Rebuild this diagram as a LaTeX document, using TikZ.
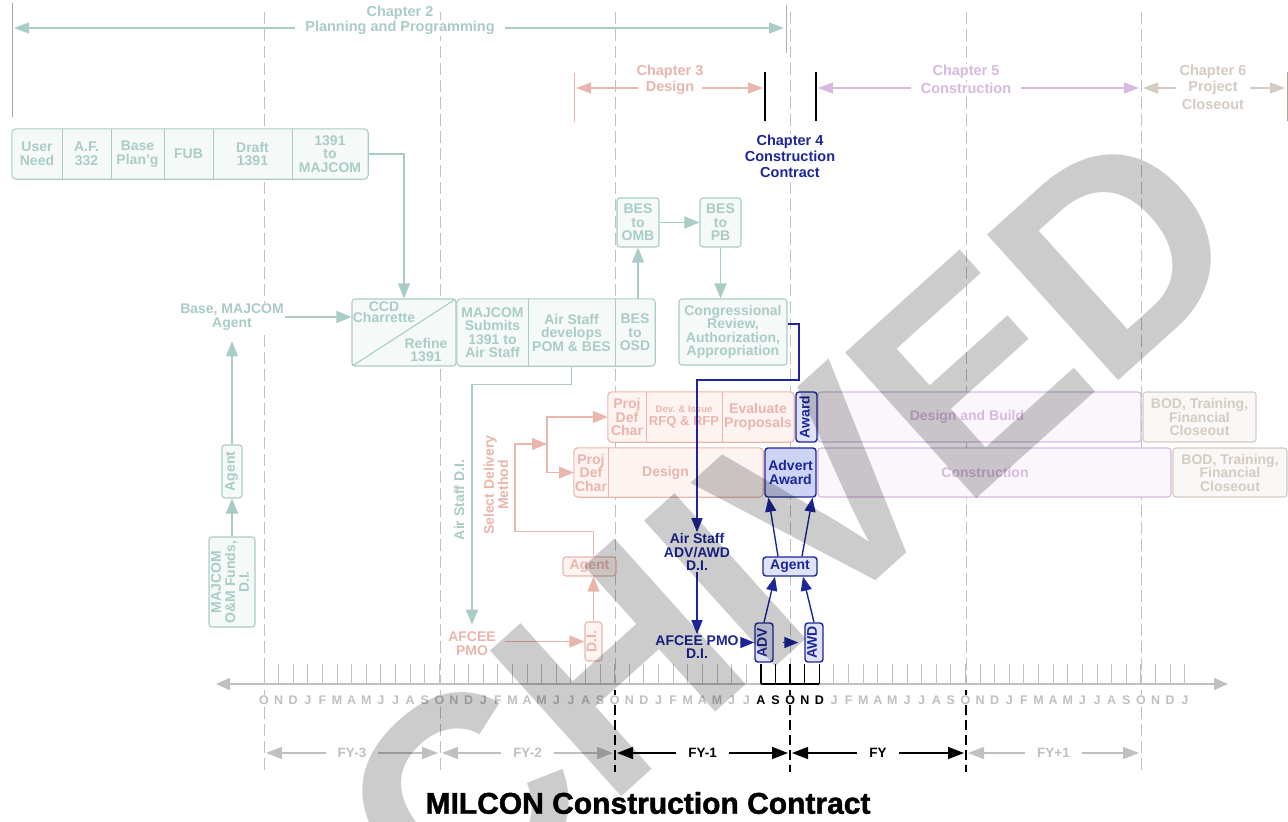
\documentclass[tikz,border=0pt]{standalone}
\usepackage{fontspec}
\setmainfont{Liberation Sans}
\newfontfamily\titlefont{Liberation Sans}[BoldFeatures={FakeBold=1.5}]
\usepackage{graphicx}
\usetikzlibrary{positioning,arrows.meta,calc,backgrounds}

\definecolor{tealc}{RGB}{170,204,198}
\definecolor{tealfill}{RGB}{245,250,249}
\definecolor{pinkc}{RGB}{234,182,172}
\definecolor{pinkfill}{RGB}{253,244,242}
\definecolor{purpc}{RGB}{214,186,224}
\definecolor{purpfill}{RGB}{251,246,252}
\definecolor{beigec}{RGB}{212,203,194}
\definecolor{beigefill}{RGB}{250,248,246}
\definecolor{bluec}{RGB}{28,38,152}
\definecolor{bluefill}{RGB}{205,211,243}
\definecolor{bluelite}{RGB}{222,227,247}
\definecolor{greyc}{RGB}{192,192,192}

% vertical (rotated) cell text
\newcommand{\vtxt}[1]{\rotatebox{90}{\begin{tabular}{@{}c@{}}#1\end{tabular}}}

\begin{document}
\begin{tikzpicture}[
    x=1pt, y=-1pt,
    every node/.style={font=\bfseries\fontsize{14}{13.5}\selectfont, align=center, inner sep=1pt},
    chap/.style={font=\bfseries\fontsize{14.5}{16}\selectfont, fill=white, inner sep=1pt},
    tcell/.style={text=tealc, inner sep=0pt},
    pcell/.style={text=pinkc, inner sep=0pt},
    tbox/.style={draw=tealc, fill=tealfill, text=tealc, rounded corners=3pt, line width=1.1pt, inner sep=0pt},
    pbox/.style={draw=pinkc, fill=pinkfill, text=pinkc, rounded corners=3pt, line width=1.1pt, inner sep=0pt},
    ubox/.style={draw=purpc, fill=purpfill, text=purpc, rounded corners=3pt, line width=1.1pt, inner sep=0pt},
    gbox/.style={draw=beigec, fill=beigefill, text=beigec, rounded corners=3pt, line width=1.1pt, inner sep=0pt},
    bbox/.style={draw=bluec, fill=bluelite, text=bluec, rounded corners=3pt, line width=1.4pt, inner sep=0pt},
    tline/.style={draw=tealc, line width=1.1pt},
    pline/.style={draw=pinkc, line width=1.1pt},
    ttext/.style={text=tealc, fill=white},
    ptext/.style={text=pinkc, fill=white},
    btext/.style={text=bluec, fill=white},
    tarrow/.style={tealc, line width=1.4pt, -{Triangle[length=15pt,width=12pt]}},
    parrow/.style={pinkc, line width=1.4pt, -{Triangle[length=15pt,width=12pt]}},
    barrow/.style={bluec, line width=1.4pt, -{Triangle[length=14pt,width=11pt]}},
    chaparrow/.style={#1, line width=1.4pt, {Triangle[length=15pt,width=11pt]}-{Triangle[length=15pt,width=11pt]}},
    fyarrow/.style={line width=1.4pt, {Triangle[length=16pt,width=12pt]}-{Triangle[length=16pt,width=12pt]}},
    yearline/.style={greyc, line width=1pt, dash pattern=on 12pt off 5pt},
    fyline/.style={black, line width=1.4pt, dash pattern=on 10pt off 5pt},
    mon/.style={font=\bfseries\fontsize{12.5}{12.5}\selectfont, text=greyc, fill=white, inner sep=0.5pt},
    fyl/.style={font=\bfseries\fontsize{13.5}{13.5}\selectfont, fill=white, inner xsep=12pt},
    wmark/.style={font=\bfseries\fontsize{285}{285}\selectfont, text=black, text opacity=0.2, inner sep=0pt}
]
\useasboundingbox (0,0) rectangle (1288,822);

% fiscal year boundaries
\begin{scope}[on background layer]
\foreach \x in {264,440,615,790,966,1141}
    \draw[yearline] (\x,12) -- (\x,684);
\foreach \x in {264,440,1141}
    \draw[yearline] (\x,690) -- (\x,772);
\foreach \x in {615,790,966}
    \draw[fyline] (\x,690) -- (\x,772);
\end{scope}

% === Chapter bands ===
\draw[black!35, line width=1pt] (12,3) -- (12,117);
\draw[black!30, line width=1pt] (786,5) -- (786,53);
\draw[chaparrow=tealc] (14,28) -- (784,28);
\node[chap, text=tealc] (c2a) at (400,13) {Chapter 2};
\node[chap, text=tealc, inner xsep=10pt] (c2b) at (400,28) {Planning and Programming};

\draw[pinkc, line width=1pt] (574,73) -- (574,122);
\draw[chaparrow=pinkc] (576,88) -- (763,88);
\node[chap, text=pinkc] (c3a) at (670,72) {Chapter 3};
\node[chap, text=pinkc, inner xsep=8pt] (c3b) at (670,88) {Design};

\draw[black, line width=1.5pt] (765,72) -- (765,121);
\draw[black, line width=1.5pt] (816,72) -- (816,121);
\node[chap, text=bluec] (ch4) at (790,156) {Chapter 4\\Construction\\Contract};

\draw[chaparrow=purpc] (818,88) -- (1139,88);
\node[chap, text=purpc] (c5a) at (966,72) {Chapter 5};
\node[chap, text=purpc, inner xsep=10pt] (c5b) at (966,88) {Construction};

\draw[beigec!80!black, line width=1pt] (1287,72) -- (1287,121);
\draw[chaparrow=beigec] (1143,88) -- (1285,88);
\node[chap, text=beigec] (c6a) at (1213,72) {Chapter 6};
\node[chap, text=beigec, inner xsep=12pt] (c6b) at (1213,88) {Project};
\node[chap, text=beigec] (c6c) at (1213,104) {Closeout};

% === Planning and programming (teal) ===
\node[tcell, minimum width=50, minimum height=50] (usr) at (37,154) {User\\Need};
\node[tcell, minimum width=49, minimum height=50] (af) at (86.5,154) {A.F.\\332};
\node[tcell, minimum width=53, minimum height=50] (base) at (137.5,154) {Base\\Plan'g};
\node[tcell, minimum width=49, minimum height=50] (fub) at (188.5,154) {FUB};
\node[tcell, minimum width=79, minimum height=50] (draft) at (252.5,154) {Draft\\1391};
\node[tcell, minimum width=76, minimum height=50] (tomaj) at (330,154) {1391\\to\\MAJCOM};
\begin{scope}[on background layer]
\draw[tline, fill=tealfill, rounded corners=4pt] (usr.south west) rectangle (tomaj.north east);
\end{scope}
\foreach \c in {usr,af,base,fub,draft}
    \draw[tline] (\c.north east) -- (\c.south east);

\node[tbox, minimum width=104, minimum height=67] (ccd) at (404,332.5) {};
\draw[tline, shorten <=1.5pt, shorten >=1.5pt] (ccd.south west) -- (ccd.north east);
\node[tcell, font=\bfseries\fontsize{14}{11.5}\selectfont] (ccdtx) at (384,312) {CCD\\Charrette};
\node[tcell] (refine) at (426,350) {Refine\\1391};

\node[tcell, minimum width=71, minimum height=67] (maj) at (492.5,332.5) {MAJCOM\\Submits\\1391 to\\Air Staff};
\node[tcell, minimum width=87, minimum height=67] (pom) at (571.5,332.5) {Air Staff\\develops\\POM \& BES};
\node[tcell, minimum width=40, minimum height=67] (osd) at (635,332.5) {BES\\to\\OSD};
\begin{scope}[on background layer]
\draw[tline, fill=tealfill, rounded corners=4pt] (maj.south west) rectangle (osd.north east);
\end{scope}
\draw[tline] (maj.north east) -- (maj.south east);
\draw[tline] (pom.north east) -- (pom.south east);

\node[tbox, minimum width=42, minimum height=49] (omb) at (638,222.5) {BES\\to\\OMB};
\node[tbox, minimum width=41, minimum height=49] (pb) at (720.5,222.5) {BES\\to\\PB};
\node[tbox, minimum width=108, minimum height=66] (cong) at (733,332) {Congressional\\Review,\\Authorization,\\Appropriation};

\node[ttext] (bma) at (232,317) {Base, MAJCOM\\Agent};
\node[tbox, minimum width=20, minimum height=53] (tagent) at (232,471.5) {\vtxt{Agent}};
\node[tbox, minimum width=46, minimum height=90] (omf) at (232,582) {\vtxt{MAJCOM\\O\&M Funds,\\D.I.}};
\node[ttext] (asdi) at (459,500) {\rotatebox{90}{Air Staff D.I.}};

\draw[tarrow] (tomaj.east) -| (ccd.north);
\draw[tarrow] (bma.east) -- (ccd.west |- bma.east);
\draw[tarrow] (omb.south |- osd.north) -- (omb.south);
\draw[tarrow] (omb.east) -- (pb.west);
\draw[tarrow] (pb.south) -- (pb.south |- cong.north);
\draw[tarrow] (omf.north) -- (tagent.south);
\draw[tarrow, shorten >=10pt] (tagent.north) -- (bma.south);

% === Design (pink) ===
\node[ptext] (afcee) at (472,643.5) {AFCEE\\PMO};
\draw[tarrow, shorten >=6pt] (pom.south) -- ++(0,18) -| (afcee.north);
\node[pbox, minimum width=17, minimum height=39] (pdi) at (593.5,641.5) {\vtxt{D.I.}};
\node[pbox, minimum width=53, minimum height=19] (pagent) at (589.5,566.5) {Agent};
\node[ptext] (sdm) at (498,485) {\vtxt{Select Delivery\\Method}};

\node[pcell, minimum width=38, minimum height=50] (pdef1) at (627,417) {Proj\\Def\\Char};
\node[pcell, minimum width=76, minimum height=50] (rfq) at (684,417) {{\fontsize{9.5}{10}\selectfont Dev. \& Issue}\\{\fontsize{13}{13}\selectfont RFQ \& RFP}};
\node[pcell, minimum width=72, minimum height=50] (evalp) at (758,417) {Evaluate\\Proposals};
\node[pcell, minimum width=34, minimum height=49] (pdef2) at (591,472.5) {Proj\\Def\\Char};
\node[pcell, minimum width=155, minimum height=49] (design) at (685.5,472.5) {Design\hspace*{40pt}};
\begin{scope}[on background layer]
\draw[pline, fill=pinkfill, rounded corners=4pt] (pdef1.south west) rectangle (evalp.north east);
\draw[pline, fill=pinkfill, rounded corners=4pt] (pdef2.south west) rectangle (design.north east);
\end{scope}
\draw[pline] (pdef1.north east) -- (pdef1.south east);
\draw[pline] (rfq.north east) -- (rfq.south east);
\draw[pline] (pdef2.north east) -- (pdef2.south east);

\coordinate (split) at (547,444);
\draw[parrow, shorten <=8pt] (afcee.east |- pdi.west) -- (pdi.west);
\draw[parrow] (pdi.north) -- (pdi.north |- pagent.south);
\draw[parrow] (pdi.north |- pagent.north) -- ++(0,-25) -| (515,444) -- (split);
\draw[parrow] (split) |- (pdef1.west);
\draw[parrow] (split) |- (pdef2.west);

% === Construction and closeout ===
\node[ubox, minimum width=323, minimum height=50] (dbuild) at (979.5,417) {Design and Build\hspace*{25pt}};
\node[ubox, minimum width=353, minimum height=49] (constr) at (994.5,472.5) {Construction\hspace*{19pt}};
\node[gbox, minimum width=113, minimum height=50] (bod1) at (1199.5,417) {BOD, Training,\\Financial\\Closeout};
\node[gbox, minimum width=114, minimum height=49] (bod2) at (1230,472.5) {BOD, Training,\\Financial\\Closeout};

% === Construction contract (blue) ===
\node[bbox, minimum width=21, minimum height=50] (award) at (806.5,417) {\vtxt{Award}};
\node[bbox, fill=bluefill, minimum width=51, minimum height=49] (advaw) at (790.5,472.5) {Advert\\Award};
\node[btext] (asadv) at (697,552) {Air Staff\\ADV/AWD\\D.I.};
\node[btext] (afpmo) at (697,647) {AFCEE PMO\\D.I.};
\node[bbox, minimum width=18, minimum height=39] (adv) at (764,642.5) {\vtxt{ADV}};
\node[bbox, minimum width=18, minimum height=39] (awd) at (814,642.5) {\vtxt{AWD}};
\node[bbox, minimum width=54, minimum height=19] (bagent) at (790,566.5) {Agent};

\draw[barrow] ([yshift=8pt]cong.east) -| (799,380) -| (asadv.north);
\draw[barrow] (asadv.south) -- (afpmo.north);
\draw[barrow] (afpmo.east |- adv.west) -- (adv.west);
\draw[barrow, shorten <=9pt, shorten >=6pt] (adv.east) -- (awd.west);
\draw[barrow] (adv.north) -- ([xshift=-15pt]bagent.south);
\draw[barrow] (awd.north) -- ([xshift=13pt]bagent.south);
\draw[barrow] ([xshift=-12pt]bagent.north) -- ([xshift=-22pt]advaw.south);
\draw[barrow] ([xshift=12pt]bagent.north) -- ([xshift=22pt]advaw.south);

% === Time line ===
\coordinate (tl) at (216,684);
\coordinate (tr) at (1228,684);
\draw[greyc, line width=1.5pt, {Triangle[length=14pt,width=12pt]}-{Triangle[length=14pt,width=12pt]}] (tl) -- (tr);
\foreach \m [count=\i from 0] in {O,N,D,J,F,M,A,M,J,J,A,S,O,N,D,J,F,M,A,M,J,J,A,S,O,N,D,J,F,M,A,M,J,J,A,S,O,N,D,J,F,M,A,M,J,J,A,S,O,N,D,J,F,M,A,M,J,J,A,S,O,N,D,J} {
    \draw[greyc, line width=1pt] (264+\i*14.615,664) -- (264+\i*14.615,684);
    \node[mon] (m\i) at (264+\i*14.615,700) {\m};
}
\draw[black, line width=1.3pt] (264+34*14.615,684) -- (264+38*14.615,684);
\foreach \m [count=\i from 34] in {A,S,O,N,D} {
    \draw[black, line width=1.3pt] (264+\i*14.615,664) -- (264+\i*14.615,684);
    \node[mon, text=black] (mb\i) at (264+\i*14.615,700) {\m};
}

% fiscal years
\foreach \a/\b/\t/\c [count=\k] in {264/440/FY-3/greyc, 440/615/FY-2/greyc, 615/790/FY-1/black, 790/966/FY/black, 966/1141/FY+1/greyc}
    \draw[fyarrow, \c] (\a+2,753) -- (\b-2,753) node[midway, fyl, text=\c] (fy\k) {\t};

% Title
\node[font=\titlefont\bfseries\fontsize{30}{30}\selectfont] (title) at (648,803) {MILCON Construction Contract};

% watermark
\foreach \ch/\x/\y in {C/462/800, H/618/668, I/725/580, V/826/494, E/968/375, D/1115/252}
    \node[wmark, rotate=42] (wm\ch) at (\x,\y) {\ch};

\end{tikzpicture}
\end{document}
